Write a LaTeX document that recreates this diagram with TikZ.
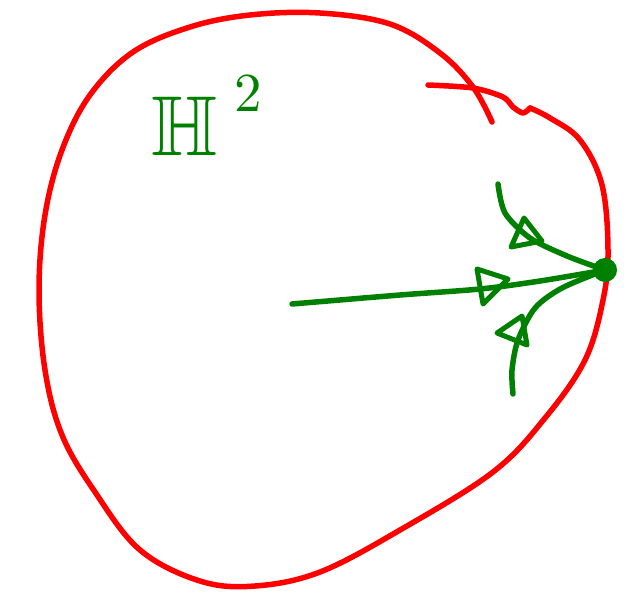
\documentclass[tikz,border=0pt]{standalone}
\usepackage{amssymb}
\begin{document}
\begin{tikzpicture}[x=1pt,y=-1pt,
  redline/.style={draw=red,line width=5.5pt,line cap=round,line join=round},
  greenline/.style={draw=green!50!black,line width=5.5pt,line cap=round,line join=round},
  tri/.style={draw=green!50!black,line width=5pt,line join=round,line cap=round},
  lbl/.style={text=green!50!black,inner sep=0pt}]
\useasboundingbox (0,0) rectangle (628,592);
% boundary circle (main stroke)
\draw[redline] plot[smooth,tension=0.6] coordinates {
 (492,122) (473,87) (440,53) (390,24) (320,13) (250,15) (190,27) (133,52)
 (90,95) (62,150) (45,215) (39,290) (45,370) (62,435) (95,492) (140,550)
 (200,581) (255,586) (320,572) (400,530) (493,472) (545,418)
 (585,360) (603,300) (608,250) (602,185) (580,140) (550,118) (530,108)};
% second stroke
\draw[redline] plot[smooth,tension=0.5] coordinates {
 (428,85) (473,88) (503,97) (513,107) (523,113) (530,108)};
% label
\node[lbl] (lab) at (185,126) {\scalebox{8.5}{$\mathbb{H}$}};
\node[lbl] (sup) at (248,93) {\scalebox{5.5}{2}};
% ideal point
\node[circle,fill=green!50!black,inner sep=0pt,minimum size=24pt] (p) at (605,270) {};
\coordinate (a) at (292,304);
\coordinate (u) at (498,184);
\coordinate (d) at (513,394);
% geodesics
\draw[greenline] plot[smooth] coordinates {(a) (400,295) (480,289) (540,281) (605,270)};
\draw[greenline] plot[smooth] coordinates {(u) (505,213) (530,238) (567,256) (605,270)};
\draw[greenline] plot[smooth] coordinates {(605,270) (562,288) (535,308) (518,340) (512,370) (d)};
% arrow heads
\draw[tri] (477,269) -- (508,279) -- (483,304) -- cycle;
\draw[tri] (524,218) -- (542,241) -- (511,247) -- cycle;
\draw[tri] (522,316) -- (527,345) -- (497,333) -- cycle;
\end{tikzpicture}
\end{document}
